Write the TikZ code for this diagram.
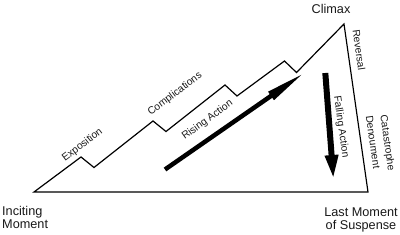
\documentclass[tikz,border=0pt]{standalone}
\usepackage{fontspec}
\setmainfont{Liberation Sans}
\usetikzlibrary{arrows.meta}
\begin{document}
\begin{tikzpicture}[x=1pt,y=-1pt,
  outline/.style={line width=1.2pt, line join=miter},
  biglabel/.style={font=\fontsize{12.7}{13}\selectfont, inner sep=0pt, text=black!90},
  smalllabel/.style={font=\fontsize{10.3}{12}\selectfont, inner sep=0pt, text=black!90},
  risearrow/.style={line width=4.5pt, -{Triangle[length=42pt,width=9pt]}},
  fallarrow/.style={line width=6pt, -{Triangle[length=25pt,width=12pt]}}
]
\path[use as bounding box] (0,0) rectangle (400,235);
% outline of the plot
\coordinate (inc) at (34,192);
\coordinate (p1) at (81,157);
\coordinate (v1) at (94,167.5);
\coordinate (p2) at (153,121);
\coordinate (v2) at (166,131.5);
\coordinate (p3) at (225,85);
\coordinate (v3) at (237,96);
\coordinate (p4) at (284.5,61);
\coordinate (v4) at (296.5,72.5);
\coordinate (apex) at (344,24);
\coordinate (last) at (368,192);
\draw[outline] (inc) -- (p1) -- (v1) -- (p2) -- (v2) -- (p3) -- (v3) -- (p4) -- (v4) -- (apex) -- (last) -- cycle;
% arrows
\coordinate (rs) at (165,169.5);
\coordinate (re) at (305.5,72);
\draw[risearrow] (rs) -- (re);
\coordinate (fs) at (325.3,73);
\coordinate (fe) at (333.5,180);
\draw[fallarrow] (fs) -- (fe);
% labels
\node[biglabel, anchor=base] (climax) at (331,13.3) {Climax};
\node[biglabel, align=left, anchor=north west] (inciting) at (2,206.5) {Inciting\\Moment};
\node[biglabel, align=center, anchor=north] (lastm) at (361,207.5) {Last Moment\\of Suspense};
\node[smalllabel, rotate=37] (expo) at (82.5,145) {Exposition};
\node[smalllabel, rotate=37] (compl) at (175,94) {Complications};
\node[smalllabel, rotate=36] (rising) at (207.5,120) {Rising Action};
\node[smalllabel, rotate=-82] (rev) at (359,50) {Reversal};
\node[smalllabel, rotate=-82] (fall) at (341,127) {Falling Action};
\node[smalllabel, rotate=-82] (deno) at (373,142) {Denoument};
\node[smalllabel, rotate=-82] (cata) at (387,143) {Catastrophe};
\end{tikzpicture}
\end{document}
